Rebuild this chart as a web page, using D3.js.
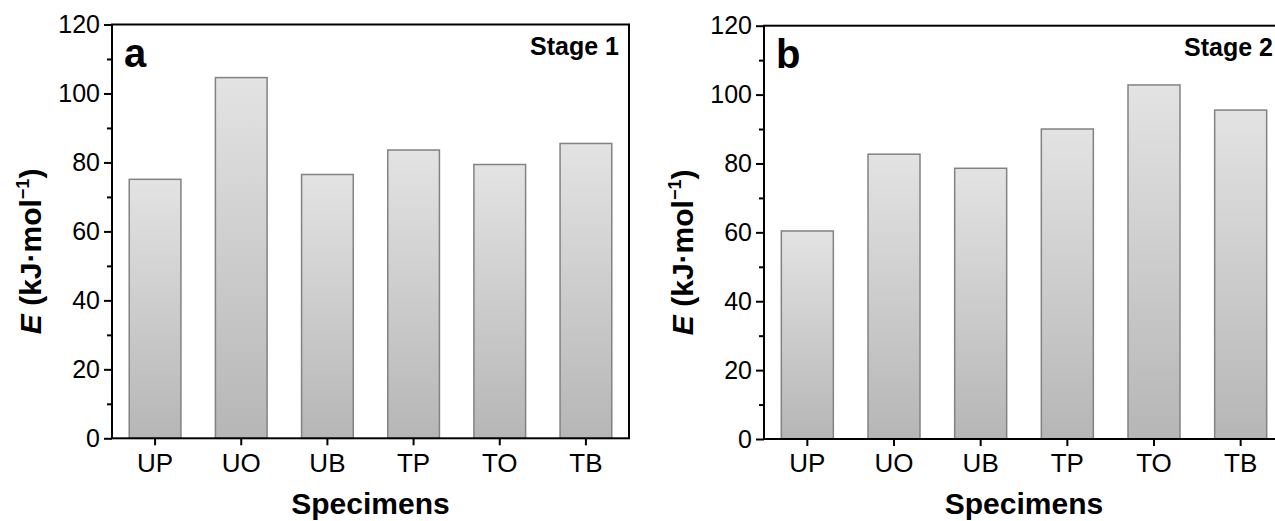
<!DOCTYPE html>
<html>
<head>
<meta charset="utf-8">
<script src="https://cdn.jsdelivr.net/npm/d3@7"></script>
<style>
  body { margin: 0; background: #fff; }
  svg { display: block; font-family: "Liberation Sans", Arial, sans-serif; }
</style>
</head>
<body>
<div id="chart"></div>
<script>
const specimens = ["UP", "UO", "UB", "TP", "TO", "TB"];
const stage1 = [75.1, 104.6, 76.5, 83.6, 79.4, 85.5];
const stage2 = [60.4, 82.7, 78.6, 90.0, 102.8, 95.5];
const yTicks = [0, 20, 40, 60, 80, 100, 120];
const yMinor = [10, 30, 50, 70, 90, 110];

const width = 1275;
const height = 521;

const svg = d3.select("#chart")
  .append("svg")
  .attr("width", width)
  .attr("height", height);

// gradient for the bars (per bar, light on top)
const grad = svg.append("defs")
  .append("linearGradient")
  .attr("id", "barGrad")
  .attr("x1", 0).attr("y1", 0)
  .attr("x2", 0).attr("y2", 1);
grad.append("stop").attr("offset", "0%").attr("stop-color", "#e3e3e3");
grad.append("stop").attr("offset", "100%").attr("stop-color", "#b6b6b6");

const panels = [
  { letter: "a", stage: "Stage 1", values: stage1, x0: 112, x1: 629, top: 24.5, bottom: 438.3 },
  { letter: "b", stage: "Stage 2", values: stage2, x0: 764, x1: 1284, top: 25.7, bottom: 439 }
];

panels.forEach(p => {
  const g = svg.append("g");

  const x = d3.scaleBand()
    .domain(specimens)
    .range([p.x0, p.x1])
    .paddingInner(0.4)
    .paddingOuter(0.2);

  const y = d3.scaleLinear()
    .domain([0, 120])
    .range([p.bottom, p.top]);

  // bars
  g.selectAll(".bar")
    .data(specimens.map((s, i) => ({ s, v: p.values[i] })))
    .enter()
    .append("rect")
    .attr("x", d => x(d.s))
    .attr("y", d => y(d.v))
    .attr("width", x.bandwidth())
    .attr("height", d => y(0) - y(d.v))
    .attr("fill", "url(#barGrad)")
    .attr("stroke", "#828282")
    .attr("stroke-width", 1.5);

  // minor y ticks
  const minor = g.append("g")
    .attr("transform", `translate(${p.x0},0)`)
    .call(d3.axisLeft(y).tickValues(yMinor).tickSize(5).tickFormat(""));
  minor.select(".domain").remove();
  minor.selectAll("line").attr("stroke-width", 2);

  // major y ticks
  const ay = g.append("g")
    .attr("transform", `translate(${p.x0},0)`)
    .call(d3.axisLeft(y).tickValues(yTicks).tickSize(8).tickPadding(4));
  ay.select(".domain").remove();
  ay.selectAll("line").attr("stroke-width", 2);
  ay.selectAll("text")
    .attr("font-size", 25)
    .attr("font-family", "Liberation Sans, Arial, sans-serif")
    .attr("fill", "#000");

  // x axis
  const ax = g.append("g")
    .attr("transform", `translate(0,${p.bottom})`)
    .call(d3.axisBottom(x).tickSize(7).tickPadding(8));
  ax.select(".domain").remove();
  ax.selectAll("line").attr("stroke-width", 2);
  ax.selectAll("text")
    .attr("font-size", 26)
    .attr("font-family", "Liberation Sans, Arial, sans-serif")
    .attr("fill", "#000");

  // frame
  g.append("rect")
    .attr("x", p.x0)
    .attr("y", p.top)
    .attr("width", p.x1 - p.x0)
    .attr("height", p.bottom - p.top)
    .attr("fill", "none")
    .attr("stroke", "#000")
    .attr("stroke-width", 2);

  // panel letter
  g.append("text")
    .attr("x", p.x0 + 12)
    .attr("y", p.top + 42)
    .attr("font-size", 40)
    .attr("font-weight", "bold")
    .text(p.letter);

  // stage label
  g.append("text")
    .attr("x", Math.min(p.x1 - 10, width - 2))
    .attr("y", p.top + 30)
    .attr("text-anchor", "end")
    .attr("font-size", 25)
    .attr("font-weight", "bold")
    .text(p.stage);

  // x title
  g.append("text")
    .attr("x", (p.x0 + p.x1) / 2)
    .attr("y", 514)
    .attr("text-anchor", "middle")
    .attr("font-size", 30)
    .attr("font-weight", "bold")
    .text("Specimens");

  // y title
  const yt = g.append("text")
    .attr("transform", `translate(${p.x0 - 71},${(p.top + p.bottom) / 2 + 20}) rotate(-90)`)
    .attr("text-anchor", "middle")
    .attr("font-size", 30)
    .attr("font-weight", "bold");
  yt.append("tspan").attr("font-style", "italic").text("E");
  yt.append("tspan").text(" (kJ\u00b7mol");
  yt.append("tspan").attr("font-size", 18).attr("dy", -12).text("\u22121");
  yt.append("tspan").attr("dy", 12).text(")");
});
</script>
</body>
</html>
